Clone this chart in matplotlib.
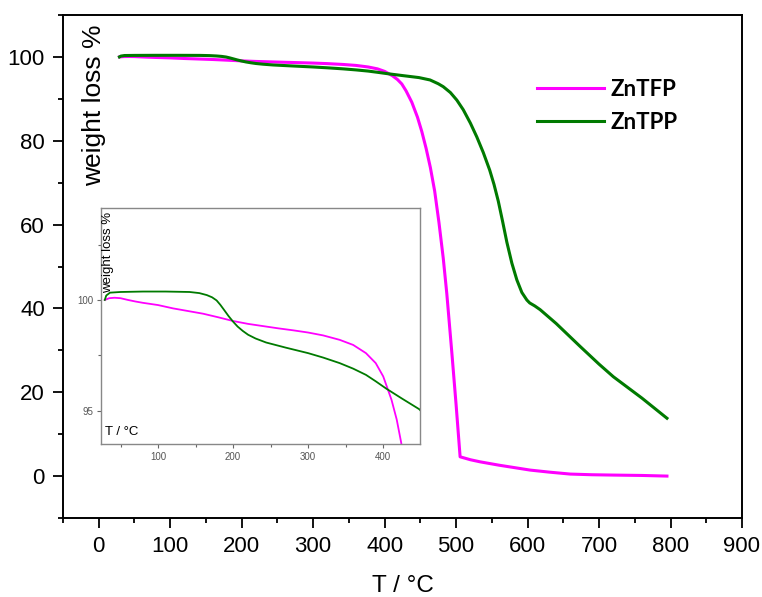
import matplotlib
matplotlib.use("Agg")
import matplotlib.pyplot as plt
from matplotlib.ticker import MultipleLocator
from matplotlib.lines import Line2D

# Thermogravimetric curves (temperature in °C, remaining weight in %)
t_tfp = [29, 35, 42, 50, 60, 70, 80, 100, 120, 140, 160, 180, 200, 220, 240,
         260, 280, 300, 320, 342, 360, 377, 390, 400, 411, 418, 424, 430, 438,
         446, 452, 458, 464, 470, 476, 482, 487, 494, 500, 505.6, 520, 533.6,
         560, 603.6, 630, 659.7, 690, 720, 760, 795]
w_tfp = [100.0, 100.08, 100.1, 100.08, 100.0, 99.93, 99.87, 99.77, 99.62, 99.5,
         99.38, 99.22, 99.05, 98.92, 98.82, 98.72, 98.63, 98.53, 98.4, 98.2,
         97.97, 97.6, 97.15, 96.55, 95.5, 94.6, 93.55, 91.9, 89.2, 85.6, 82.2,
         78.2, 73.6, 68.0, 60.5, 52.0, 43.5, 29.5, 17.0, 4.6, 3.9, 3.4, 2.6,
         1.43, 0.95, 0.48, 0.32, 0.24, 0.15, 0.0]

t_tpp = [29, 31, 36, 50, 80, 110, 142, 155, 165, 172, 178, 183, 188, 194, 200,
         206, 213, 220, 230, 244, 270, 300, 320, 342, 360, 377, 390, 404, 425,
         448, 463.6, 475, 482, 492, 501, 510, 520, 529, 538, 547, 553, 559, 565,
         571, 578, 585, 592, 599, 603, 610, 617.6, 640, 673.7, 700, 720, 760,
         795]
w_tpp = [100.0, 100.2, 100.33, 100.36, 100.38, 100.38, 100.36, 100.31, 100.22,
         100.12, 99.98, 99.78, 99.55, 99.27, 99.02, 98.8, 98.6, 98.43, 98.26,
         98.08, 97.85, 97.6, 97.4, 97.15, 96.9, 96.62, 96.33, 96.0, 95.55,
         95.07, 94.5, 93.6, 92.9, 91.5, 89.7, 87.4, 84.2, 80.9, 77.2, 73.0,
         69.6, 65.6, 60.8, 55.8, 50.8, 46.8, 43.8, 42.0, 41.3, 40.6, 39.7, 36.4,
         30.9, 26.7, 23.7, 18.6, 13.8]

series_names = ["ZnTFP", "ZnTPP"]
series_colors = ["#ff00ff", "#007a00"]

main_xticks = list(range(0, 1000, 100))
main_yticks = list(range(0, 120, 20))
inset_xticks = [100, 200, 300, 400]
inset_yticks = [95, 100]

plain = ["Liberation Sans", "DejaVu Sans"]

fig = plt.figure(figsize=(7.62, 5.97), dpi=100)
ax = fig.add_axes([63 / 762, 1 - 518 / 597, 679 / 762, 503 / 597])

ax.plot(t_tfp, w_tfp, color=series_colors[0], lw=2.2, solid_joinstyle="round")
ax.plot(t_tpp, w_tpp, color=series_colors[1], lw=2.2, solid_joinstyle="round")

ax.set_xlim(-50, 900)
ax.set_ylim(-10, 110)
ax.set_xticks(main_xticks)
ax.set_yticks(main_yticks)
ax.xaxis.set_minor_locator(MultipleLocator(50))
ax.yaxis.set_minor_locator(MultipleLocator(10))
ax.tick_params(which="major", direction="out", length=7, width=1.3, pad=6)
ax.tick_params(which="minor", direction="out", length=3.6, width=1.3)
for lab in ax.get_xticklabels() + ax.get_yticklabels():
    lab.set_family(plain)
    lab.set_fontsize(16)
for sp in ax.spines.values():
    sp.set_linewidth(1.4)

ax.set_xlabel("T / °C", family=plain, fontsize=17.5, labelpad=13)
ax.text((94 - 63) / 679, (518 - 105) / 503, "weight loss %", rotation=90,
        ha="center", va="center", family=plain, fontsize=19,
        transform=ax.transAxes)

handles = [Line2D([], [], color=c, lw=2.2) for c in series_colors]
leg = ax.legend(handles, series_names, loc="center left",
                bbox_to_anchor=(537 / 762, 1 - 106 / 597),
                bbox_transform=fig.transFigure, frameon=False, borderpad=0,
                borderaxespad=0, handlelength=3.0, handletextpad=0.3,
                labelspacing=0.55,
                prop={"family": ["Lato", "DejaVu Sans"], "weight": "bold",
                      "size": 16})

# Inset: close-up of the first stage of decomposition
ins = fig.add_axes([101 / 762, 1 - 444 / 597, 319 / 762, 236 / 597])
ins.plot(t_tfp, w_tfp, color=series_colors[0], lw=1.3)
ins.plot(t_tpp, w_tpp, color=series_colors[1], lw=1.3)
ins.set_xlim(24, 449)
ins.set_ylim(93.5, 104.15)
ins.set_xticks(inset_xticks)
ins.set_yticks(inset_yticks)
ins.xaxis.set_minor_locator(MultipleLocator(50))
ins.yaxis.set_minor_locator(MultipleLocator(2.5))
ins.tick_params(which="both", direction="out", length=3, width=0.8,
                color="#666666", labelcolor="#555555", labelsize=7, pad=2.5)
ins.tick_params(which="minor", length=2)
for lab in ins.get_xticklabels() + ins.get_yticklabels():
    lab.set_family(plain)
for sp in ins.spines.values():
    sp.set_color("#888888")
    sp.set_linewidth(1.0)
ins.text(0.022, 0.985, "weight loss %", rotation=90, ha="center", va="top",
         family=plain, fontsize=9.5, transform=ins.transAxes)
ins.text(0.012, 0.05, "T / °C", ha="left", va="center", family=plain,
         fontsize=9.5, transform=ins.transAxes)

fig.savefig("out.png", dpi=100)
